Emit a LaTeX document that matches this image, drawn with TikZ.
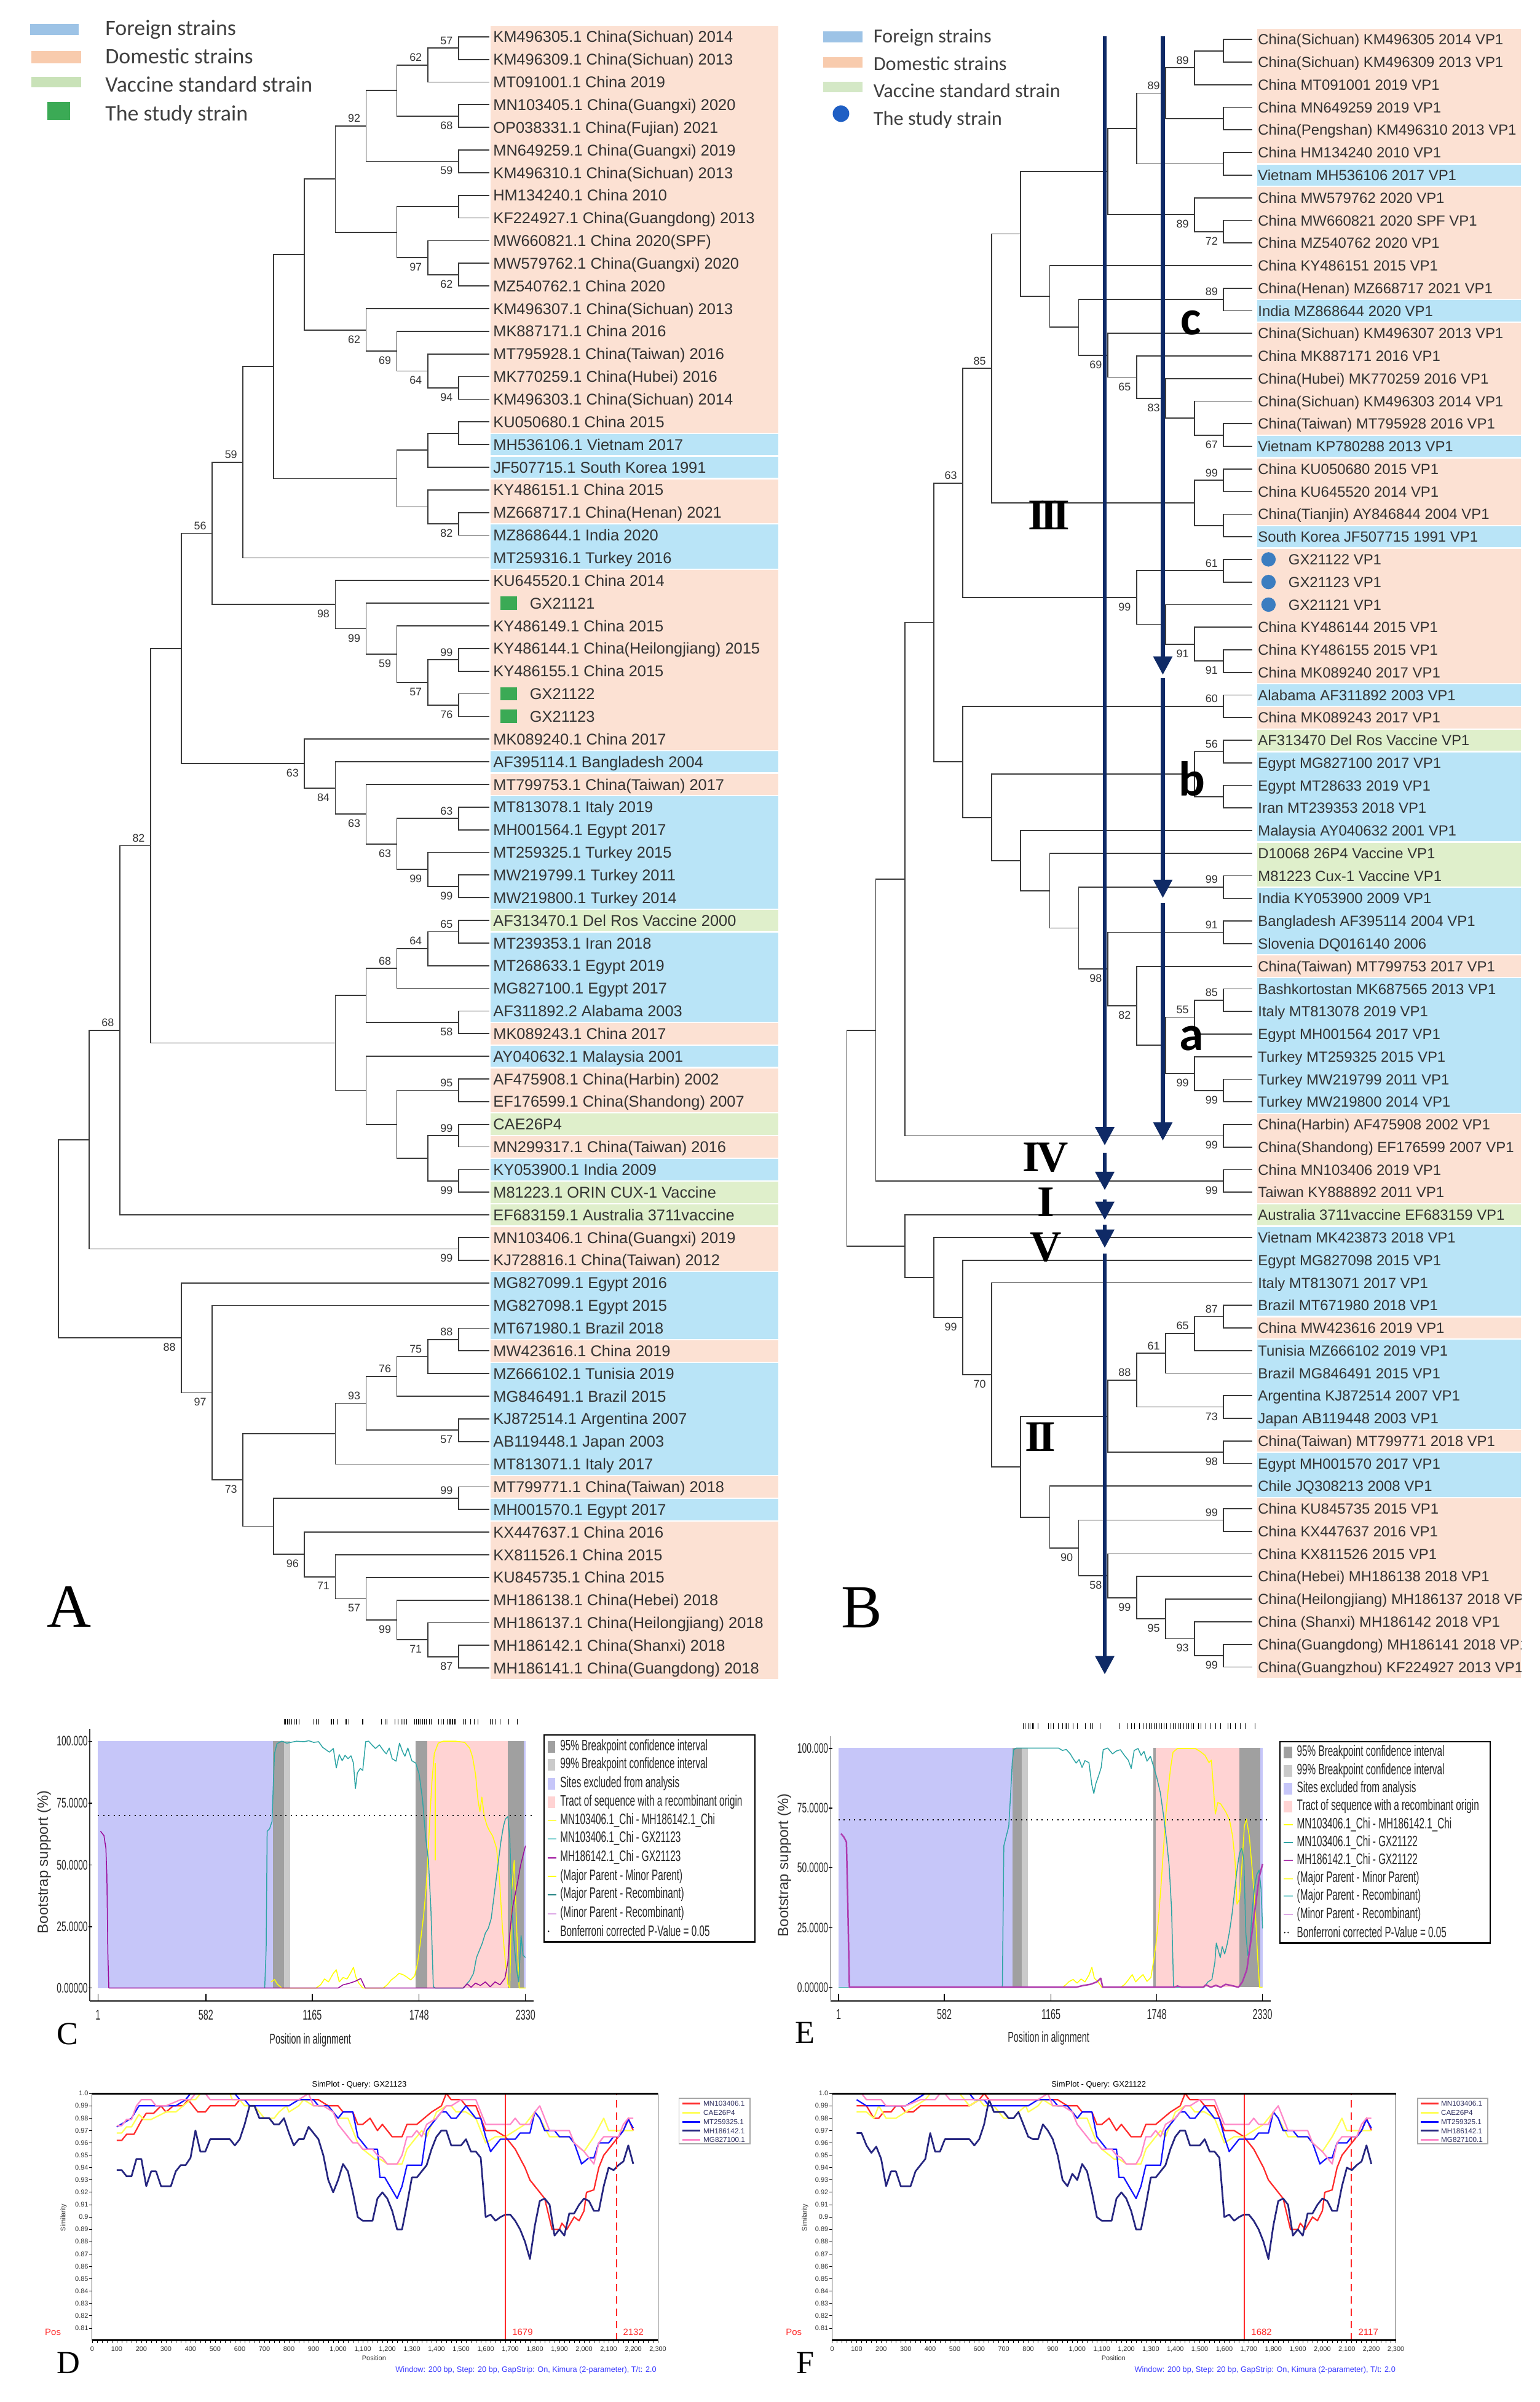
\documentclass[tikz,border=0pt]{standalone}
\usepackage{fontspec}
\setmainfont{Liberation Sans}
\newfontfamily\lsans{Liberation Sans}
\newfontfamily\nsans[FakeStretch=0.62]{Liberation Sans}
\newfontfamily\carl{Carlito}
\newfontfamily\lserif{Liberation Serif}
\usetikzlibrary{arrows.meta}
\definecolor{cD}{HTML}{FCE1D3}
\definecolor{cF}{HTML}{B9E4F7}
\definecolor{cV}{HTML}{DFEFCB}
\definecolor{lgB}{HTML}{9DC3E6}
\definecolor{lgD}{HTML}{F8CBAD}
\definecolor{lgV}{HTML}{C9E2B8}
\definecolor{studyG}{HTML}{3BAA55}
\definecolor{studyB}{HTML}{3B7DC0}
\definecolor{legdot}{HTML}{1F5FC4}
\definecolor{navy}{HTML}{0F2A66}
\definecolor{txt}{HTML}{333333}
\definecolor{legtxt}{HTML}{404040}
\definecolor{brc}{HTML}{3A3A3A}
\definecolor{rdpP}{HTML}{C6C6F9}
\definecolor{rdpK}{HTML}{FFD3D3}
\definecolor{rdpG1}{HTML}{A0A0A0}
\definecolor{rdpG2}{HTML}{CACACA}
\definecolor{cyel}{HTML}{FFFF00}
\definecolor{cteal}{HTML}{2FA5A5}
\definecolor{clteal}{HTML}{86D3D3}
\definecolor{cpur}{HTML}{9A0A9A}
\definecolor{clpur}{HTML}{DDA8E6}
\definecolor{sR}{HTML}{FF2A2A}
\definecolor{sY}{HTML}{FFFF55}
\definecolor{sB}{HTML}{1414FF}
\definecolor{sN}{HTML}{262680}
\definecolor{sP}{HTML}{FF88C8}
\definecolor{winblue}{HTML}{3C3CFF}
\definecolor{slegtxt}{HTML}{303060}
\tikzset{
 branch/.style={draw=brc, line width=0.7pt},
 bsa/.style={font=\lsans\fontsize{7.2}{8}\selectfont, text=txt, anchor=south east, xshift=-3.8pt, yshift=2.4pt},
 bsb/.style={font=\lsans\fontsize{7.2}{8}\selectfont, text=txt, anchor=north east, xshift=-3.8pt, yshift=-3.6pt},
 labA/.style={font=\lsans\fontsize{10.2}{12}\selectfont, text=txt, anchor=base west, yshift=-3.65pt},
 labB/.style={font=\lsans\fontsize{9.6}{11}\selectfont, text=txt, anchor=base west, yshift=-3.45pt},
 legA/.style={font=\carl\fontsize{14.4}{16}\selectfont, text=legtxt, anchor=base west, yshift=-4.6pt},
 legB/.style={font=\carl\fontsize{13}{15}\selectfont, text=legtxt, anchor=base west, yshift=-4.2pt},
 roman/.style={font=\lserif\bfseries\fontsize{28.5}{30}\selectfont, text=black},
 cladel/.style={font=\carl\bfseries\fontsize{32}{34}\selectfont, text=black},
 panel/.style={font=\lserif\fontsize{40}{42}\selectfont, text=black},
 panelS/.style={font=\lserif\fontsize{21}{22}\selectfont, text=black},
 bigarrow/.style={draw=navy, line width=2.6pt, -{Triangle[width=12pt,length=12pt]}},
 rdpt/.style={font=\nsans\fontsize{9.9}{10}\selectfont, text=black!85, anchor=west},
 rdptick/.style={font=\nsans\fontsize{9}{10}\selectfont, text=black!85},
 rdpax/.style={font=\nsans\fontsize{9.3}{10}\selectfont, text=black!85},
 bsup/.style={font=\lsans\fontsize{9.6}{10}\selectfont, text=black!80, rotate=90},
 curv/.style={line width=0.6pt, line join=round},
 scurv/.style={line width=0.9pt, line join=round},
 stitle/.style={font=\lsans\fontsize{5.2}{6}\selectfont},
 stick/.style={font=\lsans\fontsize{4.4}{5}\selectfont, text=black!80},
 sleg/.style={font=\lsans\fontsize{4.7}{5}\selectfont, text=slegtxt, anchor=west},
 spos/.style={font=\lsans\fontsize{6}{7}\selectfont, text=sR},
 swin/.style={font=\lsans\fontsize{5.1}{6}\selectfont, text=winblue},
 redline/.style={draw=sR, line width=0.75pt},
}
\newcommand\tn[6]{\coordinate (#1) at (#2,#3);
 \foreach \kid in {#4}{\draw[branch] (#1) |- (\kid);}
 \if#6a\node[bsa] (#1l) at (#1) {#5};\fi
 \if#6b\node[bsb] (#1l) at (#1) {#5};\fi}
% SimPlot curves: shared tails, first part as argument
\newcommand\simR[1]{\draw[scurv,sR] plot coordinates {#1 (640,.995) (700,.995) (760,.995) (880,.995) (920,.995) (960,.99) (1000,.99) (1020,.985) (1060,.985) (1080,.975) (1100,.975) (1130,.98) (1160,.97) (1180,.975) (1200,.97) (1220,.965) (1260,.965) (1280,.975) (1320,.975) (1380,.985) (1420,.99) (1440,1.0) (1460,.995) (1500,.995) (1520,.99) (1560,.99) (1580,.98) (1600,.97) (1640,.97) (1680,.965) (1720,.955) (1760,.94) (1780,.93) (1800,.925) (1840,.915) (1870,.89) (1900,.89) (1910,.895) (1930,.89) (1960,.9) (1980,.897) (2000,.905) (2010,.92) (2040,.922) (2060,.94) (2080,.95) (2100,.955) (2120,.96) (2140,.965) (2160,.97) (2180,.98) (2200,.97)};}
\newcommand\simY[1]{\draw[scurv,sY] plot coordinates {#1 (600,.995) (620,.99) (660,.99) (680,.985) (700,.98) (740,.98) (760,.985) (790,.99) (800,.985) (840,.99) (860,.995) (900,.99) (960,.99) (980,.985) (1000,.98) (1040,.98) (1060,.97) (1080,.96) (1100,.955) (1150,.947) (1170,.947) (1200,.943) (1260,.943) (1280,.955) (1300,.96) (1340,.97) (1360,.965) (1400,.985) (1440,.99) (1460,.99) (1480,.985) (1520,.985) (1560,.98) (1600,.96) (1640,.965) (1680,.965) (1720,.97) (1760,.975) (1800,.985) (1820,.98) (1860,.965) (1900,.965) (1940,.965) (1960,.96) (2000,.953) (2040,.965) (2080,.98) (2100,.97) (2160,.97) (2200,.97)};}
\newcommand\simB[1]{\draw[scurv,sB] plot coordinates {#1 (600,.995) (620,.995) (640,.99) (700,.99) (780,.99) (800,.99) (840,.995) (900,.995) (920,.99) (960,.99) (980,.985) (1000,.98) (1020,.985) (1060,.985) (1080,.965) (1100,.96) (1120,.955) (1160,.955) (1170,.932) (1190,.932) (1240,.915) (1260,.925) (1280,.942) (1300,.942) (1340,.942) (1360,.97) (1380,.975) (1420,.985) (1440,.985) (1460,.98) (1480,.98) (1500,.985) (1520,.99) (1540,.985) (1560,.98) (1580,.98) (1600,.965) (1620,.953) (1660,.963) (1680,.963) (1720,.963) (1740,.968) (1780,.968) (1800,.985) (1820,.98) (1840,.97) (1880,.97) (1900,.965) (1940,.965) (1960,.96) (1990,.943) (2020,.948) (2040,.948) (2060,.96) (2100,.96) (2120,.965) (2140,.965) (2160,.97) (2180,.979) (2200,.972)};}
\newcommand\simN[1]{\draw[scurv,sN,line width=1.1pt] plot coordinates {#1 (1000,.93) (1020,.943) (1040,.937) (1060,.92) (1080,.9) (1100,.897) (1140,.897) (1160,.915) (1180,.92) (1200,.915) (1220,.905) (1240,.89) (1260,.89) (1280,.91) (1300,.932) (1320,.932) (1340,.937) (1360,.942) (1380,.955) (1400,.965) (1420,.97) (1440,.97) (1460,.958) (1480,.958) (1500,.958) (1520,.963) (1540,.953) (1560,.953) (1580,.948) (1600,.9) (1620,.902) (1640,.897) (1660,.9) (1680,.902) (1700,.902) (1720,.897) (1740,.89) (1760,.88) (1780,.866) (1800,.893) (1820,.913) (1840,.915) (1860,.91) (1880,.885) (1900,.89) (1920,.885) (1940,.903) (1960,.903) (1980,.91) (2000,.915) (2020,.913) (2040,.905) (2060,.905) (2080,.925) (2100,.94) (2120,.938) (2140,.942) (2160,.945) (2180,.958) (2200,.943)};}
\newcommand\simP[1]{\draw[scurv,sP] plot coordinates {#1 (460,1.0) (480,.995) (560,.995) (620,.995) (700,.995) (820,.995) (840,.995) (880,1.0) (900,.99) (920,.99) (940,.99) (980,.985) (1000,.975) (1020,.97) (1040,.965) (1060,.96) (1080,.96) (1100,.955) (1140,.955) (1160,.95) (1180,.948) (1200,.943) (1240,.943) (1260,.95) (1280,.965) (1300,.965) (1320,.97) (1340,.965) (1360,.975) (1400,.98) (1440,.99) (1460,.99) (1500,.995) (1560,.995) (1600,.975) (1640,.975) (1680,.975) (1700,.975) (1720,.98) (1740,.975) (1780,.975) (1800,.985) (1820,.99) (1840,.98) (1860,.97) (1880,.97) (1900,.97) (1940,.97) (1960,.96) (2000,.953) (2040,.943) (2060,.96) (2080,.965) (2100,.965) (2140,.965) (2160,.975) (2180,.98) (2200,.98)};}
\begin{document}
\begin{tikzpicture}[x=1pt,y=-1pt, every node/.style={inner sep=0pt, outer sep=0pt}]
\useasboundingbox (0,0) rectangle (1005,1568);
\fill[white] (0,0) rectangle (1005,1568);

%================ PANEL A =================
\fill[lgB] (19.6,15.6) rectangle (51.4,23);
\fill[lgD] (20.3,33.4) rectangle (53,41.5);
\fill[lgV] (20.3,50.2) rectangle (53,57.1);
\fill[studyG] (31,66.8) rectangle (45.7,78.3);
\node[legA] (lgA1) at (68.8,18.4) {Foreign strains};
\node[legA] (lgA2) at (68.8,36.8) {Domestic strains};
\node[legA] (lgA3) at (68.8,55.3) {Vaccine standard strain};
\node[legA] (lgA4) at (68.8,74.2) {The study strain};

\begin{scope}[xshift=38pt, yshift=-9.21pt, x=20.1pt, y=-14.79pt]
\foreach \s/\e/\cl in {1/18/cD,19/19/cF,20/20/cF,21/22/cD,23/24/cF,25/32/cD,33/33/cF,34/34/cD,35/39/cF,40/40/cV,41/44/cF,45/45/cD,46/46/cF,47/48/cD,49/49/cV,50/50/cD,51/51/cF,52/52/cV,53/53/cV,54/55/cD,56/58/cF,59/59/cD,60/64/cF,65/65/cD,66/66/cF,67/73/cD}
  {\fill[\cl] (14.05,{\s-0.47}) rectangle (23.38,{\e+0.47});}
\foreach \i in {1,...,73}{\coordinate (Ar\i) at (14,\i);}
\tn{Aa1}{13}{1.5}{Ar1,Ar2}{57}{a}
\tn{Aa2}{12}{2.25}{Aa1,Ar3}{62}{a}
\tn{Aa3}{13}{4.5}{Ar4,Ar5}{68}{b}
\tn{Aa4}{11}{3.375}{Aa2,Aa3}{}{n}
\tn{Aa5}{13}{6.5}{Ar6,Ar7}{59}{b}
\tn{Aa6}{10}{4.9375}{Aa4,Aa5}{92}{a}
\tn{Aa7}{13}{8.5}{Ar8,Ar9}{}{n}
\tn{Aa8}{13}{11.5}{Ar11,Ar12}{62}{b}
\tn{Aa9}{12}{10.75}{Ar10,Aa8}{97}{b}
\tn{Aa10}{11}{9.625}{Aa7,Aa9}{}{n}
\tn{Aa11}{9}{7.28}{Aa6,Aa10}{}{n}
\tn{Aa12}{13}{16.5}{Ar16,Ar17}{94}{b}
\tn{Aa13}{12}{15.75}{Ar15,Aa12}{64}{b}
\tn{Aa14}{11}{14.875}{Ar14,Aa13}{69}{b}
\tn{Aa15}{10}{13.94}{Ar13,Aa14}{62}{b}
\tn{Aa16}{8}{10.61}{Aa11,Aa15}{}{n}
\tn{Ab1}{13}{18.5}{Ar18,Ar19}{}{n}
\tn{Ab2}{12}{19.25}{Ab1,Ar20}{}{n}
\tn{Ab3}{13}{22.5}{Ar22,Ar23}{82}{b}
\tn{Ab4}{12}{21.75}{Ar21,Ab3}{}{n}
\tn{Ab5}{11}{20.5}{Ab2,Ab4}{}{n}
\tn{Ab6}{7}{15.55}{Aa16,Ab5}{}{n}
\tn{Ab7}{6}{19.78}{Ab6,Ar24}{59}{a}
\tn{Ac1}{13}{28.5}{Ar28,Ar29}{99}{a}
\tn{Ac2}{13}{30.5}{Ar30,Ar31}{76}{b}
\tn{Ac3}{12}{29.5}{Ac1,Ac2}{57}{b}
\tn{Ac4}{11}{28.25}{Ar27,Ac3}{59}{b}
\tn{Ac5}{10}{27.125}{Ar26,Ac4}{99}{b}
\tn{Ac6}{9}{26.06}{Ar25,Ac5}{98}{b}
\tn{Ac7}{5}{22.92}{Ab7,Ac6}{56}{a}
\tn{Ad1}{13}{35.5}{Ar35,Ar36}{63}{a}
\tn{Ad2}{13}{38.5}{Ar38,Ar39}{99}{b}
\tn{Ad3}{12}{37.75}{Ar37,Ad2}{99}{b}
\tn{Ad4}{11}{36.625}{Ad1,Ad3}{63}{b}
\tn{Ad5}{10}{35.31}{Ar34,Ad4}{63}{b}
\tn{Ad6}{9}{34.16}{Ar33,Ad5}{84}{b}
\tn{Ad7}{8}{33.08}{Ar32,Ad6}{63}{b}
\tn{Ac8}{4}{28.0}{Ac7,Ad7}{}{n}
\tn{Ae1}{13}{40.5}{Ar40,Ar41}{65}{a}
\tn{Ae2}{12}{41.25}{Ae1,Ar42}{64}{a}
\tn{Ae3}{11}{42.125}{Ae2,Ar43}{68}{a}
\tn{Ae4}{13}{44.5}{Ar44,Ar45}{58}{b}
\tn{Ae5}{10}{43.31}{Ae3,Ae4}{}{n}
\tn{Af1}{13}{47.5}{Ar47,Ar48}{95}{a}
\tn{Af2}{13}{49.5}{Ar49,Ar50}{99}{a}
\tn{Af3}{13}{51.5}{Ar51,Ar52}{99}{b}
\tn{Af4}{12}{50.5}{Af2,Af3}{}{n}
\tn{Af5}{11}{49}{Af1,Af4}{}{n}
\tn{Af6}{10}{47.5}{Ar46,Af5}{}{n}
\tn{Ae7}{9}{45.41}{Ae5,Af6}{}{n}
\tn{Ag1}{3}{36.7}{Ac8,Ae7}{82}{a}
\tn{Ag2}{2}{44.85}{Ag1,Ar53}{68}{a}
\tn{Ag3}{13}{54.5}{Ar54,Ar55}{99}{b}
\tn{Ag4}{1}{49.68}{Ag2,Ag3}{}{n}
\tn{Ah1}{13}{58.5}{Ar58,Ar59}{88}{a}
\tn{Ah2}{12}{59.25}{Ah1,Ar60}{75}{a}
\tn{Ah3}{11}{60.125}{Ah2,Ar61}{76}{a}
\tn{Ah4}{13}{62.5}{Ar62,Ar63}{57}{b}
\tn{Ah5}{10}{61.31}{Ah3,Ah4}{93}{a}
\tn{Ah6}{9}{62.66}{Ah5,Ar64}{}{n}
\tn{Ak1}{13}{65.5}{Ar65,Ar66}{99}{a}
\tn{Ak2}{13}{72.5}{Ar72,Ar73}{87}{b}
\tn{Ak3}{12}{71.75}{Ar71,Ak2}{71}{b}
\tn{Ak4}{11}{70.875}{Ar70,Ak3}{99}{b}
\tn{Ak5}{10}{69.94}{Ar69,Ak4}{57}{b}
\tn{Ak6}{9}{68.97}{Ar68,Ak5}{71}{b}
\tn{Ak7}{8}{67.98}{Ar67,Ak6}{96}{b}
\tn{Ak8}{7}{66.74}{Ak1,Ak7}{}{n}
\tn{Ak9}{6}{64.7}{Ah6,Ak8}{73}{b}
\tn{Ak10}{5}{60.85}{Ar57,Ak9}{97}{b}
\tn{Ak11}{4}{58.43}{Ar56,Ak10}{88}{b}
\tn{Aroot}{0}{54.05}{Ag4,Ak11}{}{n}
\foreach \i/\t in {1/KM496305.1 China(Sichuan) 2014,2/KM496309.1 China(Sichuan) 2013,3/MT091001.1 China 2019,4/MN103405.1 China(Guangxi) 2020,5/OP038331.1 China(Fujian) 2021,6/MN649259.1 China(Guangxi) 2019,7/KM496310.1 China(Sichuan) 2013,8/HM134240.1 China 2010,9/KF224927.1 China(Guangdong) 2013,10/MW660821.1 China 2020(SPF),11/MW579762.1 China(Guangxi) 2020,12/MZ540762.1 China 2020,13/KM496307.1 China(Sichuan) 2013,14/MK887171.1 China 2016,15/MT795928.1 China(Taiwan) 2016,16/MK770259.1 China(Hubei) 2016,17/KM496303.1 China(Sichuan) 2014,18/KU050680.1 China 2015,19/MH536106.1 Vietnam 2017,20/JF507715.1 South Korea 1991,21/KY486151.1 China 2015,22/MZ668717.1 China(Henan) 2021,23/MZ868644.1 India 2020,24/MT259316.1 Turkey 2016,25/KU645520.1 China 2014,27/KY486149.1 China 2015,28/KY486144.1 China(Heilongjiang) 2015,29/KY486155.1 China 2015,32/MK089240.1 China 2017,33/AF395114.1 Bangladesh 2004,34/MT799753.1 China(Taiwan) 2017,35/MT813078.1 Italy 2019,36/MH001564.1 Egypt 2017,37/MT259325.1 Turkey 2015,38/MW219799.1 Turkey 2011,39/MW219800.1 Turkey 2014,40/AF313470.1 Del Ros Vaccine 2000,41/MT239353.1 Iran 2018,42/MT268633.1 Egypt 2019,43/MG827100.1 Egypt 2017,44/AF311892.2 Alabama 2003,45/MK089243.1 China 2017,46/AY040632.1 Malaysia 2001,47/AF475908.1 China(Harbin) 2002,48/EF176599.1 China(Shandong) 2007,49/CAE26P4,50/MN299317.1 China(Taiwan) 2016,51/KY053900.1 India 2009,52/M81223.1 ORIN CUX-1 Vaccine,53/EF683159.1 Australia 3711vaccine,54/MN103406.1 China(Guangxi) 2019,55/KJ728816.1 China(Taiwan) 2012,56/MG827099.1 Egypt 2016,57/MG827098.1 Egypt 2015,58/MT671980.1 Brazil 2018,59/MW423616.1 China 2019,60/MZ666102.1 Tunisia 2019,61/MG846491.1 Brazil 2015,62/KJ872514.1 Argentina 2007,63/AB119448.1 Japan 2003,64/MT813071.1 Italy 2017,65/MT799771.1 China(Taiwan) 2018,66/MH001570.1 Egypt 2017,67/KX447637.1 China 2016,68/KX811526.1 China 2015,69/KU845735.1 China 2015,70/MH186138.1 China(Hebei) 2018,71/MH186137.1 China(Heilongjiang) 2018,72/MH186142.1 China(Shanxi) 2018,73/MH186141.1 China(Guangdong) 2018}
  {\node[labA] (tA\i) at (14.13,\i) {\t};}
\foreach \i/\t in {26/GX21121,30/GX21122,31/GX21123}{
  \node[fill=studyG, minimum width=11pt, minimum height=8.8pt] (sqA\i) at (14.63,\i) {};
  \node[labA] (tA\i) at (15.32,\i) {\t};}
\end{scope}
\node[panel] (pA) at (45,1049) {A};

%================ PANEL B =================
\fill[lgB] (537.3,20.3) rectangle (563.2,27.6);
\fill[lgD] (537.3,37.5) rectangle (563.2,44.2);
\fill[lgV!80!white] (537.3,53.4) rectangle (563.2,60.3);
\fill[legdot] (549,74.2) circle (5.4pt);
\node[legB] (lgB1) at (570.2,23.7) {Foreign strains};
\node[legB] (lgB2) at (570.2,41.7) {Domestic strains};
\node[legB] (lgB3) at (570.2,59.4) {Vaccine standard strain};
\node[legB] (lgB4) at (570.2,77.4) {The study strain};

\begin{scope}[xshift=552.8pt, yshift=-11.05pt, x=18.92pt, y=-14.755pt]
\foreach \s/\e/\cl in {1/6/cD,7/7/cF,8/12/cD,13/13/cF,14/18/cD,19/19/cF,20/22/cD,23/23/cF,24/29/cD,30/30/cF,31/31/cD,32/32/cV,33/36/cF,37/38/cV,39/41/cF,42/42/cD,43/48/cF,49/52/cD,53/53/cV,54/57/cF,58/58/cD,59/62/cF,63/63/cD,64/65/cF,66/73/cD}
  {\fill[\cl] (14.16,{\s-0.47}) rectangle (23.26,{\e+0.47});}
\foreach \i in {1,...,73}{\coordinate (Br\i) at (14,\i);}
\tn{Ba1}{13}{1.5}{Br1,Br2}{}{n}
\tn{Ba2}{12}{2.25}{Ba1,Br3}{89}{a}
\tn{Ba3}{13}{4.5}{Br4,Br5}{}{n}
\tn{Ba4}{11}{3.375}{Ba2,Ba3}{89}{a}
\tn{Ba5}{13}{6.5}{Br6,Br7}{}{n}
\tn{Ba6}{10}{4.94}{Ba4,Ba5}{}{n}
\tn{Ba7}{13}{9.5}{Br9,Br10}{72}{b}
\tn{Ba8}{12}{8.75}{Br8,Ba7}{89}{b}
\tn{Ba9}{9}{6.84}{Ba6,Ba8}{}{n}
\tn{Bb1}{13}{12.5}{Br12,Br13}{89}{a}
\tn{Bc1}{13}{18.5}{Br18,Br19}{67}{b}
\tn{Bc2}{12}{17.75}{Br17,Bc1}{}{n}
\tn{Bc3}{11}{16.875}{Br16,Bc2}{83}{b}
\tn{Bc4}{10}{15.94}{Br15,Bc3}{65}{b}
\tn{Bc5}{9}{14.97}{Br14,Bc4}{69}{b}
\tn{Bc6}{8}{13.73}{Bb1,Bc5}{}{n}
\tn{Bc7}{7}{12.37}{Br11,Bc6}{}{n}
\tn{Bc8}{6}{9.6}{Ba9,Bc7}{}{n}
\tn{Bd1}{13}{20.5}{Br20,Br21}{99}{a}
\tn{Bd2}{13}{22.5}{Br22,Br23}{}{n}
\tn{Bd3}{12}{21.5}{Bd1,Bd2}{}{n}
\tn{Bd4}{5}{15.55}{Bc8,Bd3}{85}{a}
\tn{Be1}{13}{24.5}{Br24,Br25}{61}{a}
\tn{Be2}{13}{28.5}{Br28,Br29}{91}{b}
\tn{Be3}{12}{27.75}{Br27,Be2}{91}{b}
\tn{Be4}{11}{26.875}{Br26,Be3}{}{n}
\tn{Be5}{10}{25.69}{Be1,Be4}{99}{b}
\tn{Be6}{4}{20.62}{Bd4,Be5}{63}{a}
\tn{Bf1}{13}{30.5}{Br30,Br31}{60}{a}
\tn{Bf2}{13}{32.5}{Br32,Br33}{56}{a}
\tn{Bf3}{13}{34.5}{Br34,Br35}{}{n}
\tn{Bf4}{12}{33.5}{Bf2,Bf3}{}{n}
\tn{Bg1}{13}{38.5}{Br38,Br39}{99}{a}
\tn{Bg2}{13}{40.5}{Br40,Br41}{91}{a}
\tn{Bg3}{13}{43.5}{Br43,Br44}{85}{a}
\tn{Bg4}{12}{44.25}{Bg3,Br45}{55}{a}
\tn{Bg5}{13}{47.5}{Br47,Br48}{99}{b}
\tn{Bg6}{12}{46.75}{Br46,Bg5}{99}{b}
\tn{Bg7}{11}{45.5}{Bg4,Bg6}{}{n}
\tn{Bg8}{10}{43.75}{Br42,Bg7}{82}{b}
\tn{Bg9}{9}{42.125}{Bg2,Bg8}{98}{b}
\tn{Bg10}{8}{40.31}{Bg1,Bg9}{}{n}
\tn{Bg11}{7}{38.66}{Br37,Bg10}{}{n}
\tn{Bg12}{6}{37.33}{Br36,Bg11}{}{n}
\tn{Bg13}{5}{35.42}{Bf4,Bg12}{}{n}
\tn{Bg14}{4}{32.96}{Bf1,Bg13}{}{n}
\tn{Bh1}{3}{26.79}{Be6,Bg14}{}{n}
\tn{Bh2}{13}{49.5}{Br49,Br50}{99}{b}
\tn{Bh3}{2}{38.15}{Bh1,Bh2}{}{n}
\tn{Bh4}{13}{51.5}{Br51,Br52}{99}{b}
\tn{Bh5}{1}{44.83}{Bh3,Bh4}{}{n}
\tn{Bi1}{13}{57.5}{Br57,Br58}{87}{a}
\tn{Bi2}{12}{58.25}{Bi1,Br59}{65}{a}
\tn{Bi3}{11}{59.125}{Bi2,Br60}{61}{a}
\tn{Bi4}{13}{61.5}{Br61,Br62}{73}{b}
\tn{Bi5}{10}{60.31}{Bi3,Bi4}{88}{a}
\tn{Bi6}{13}{63.5}{Br63,Br64}{98}{b}
\tn{Bi7}{9}{61.91}{Bi5,Bi6}{}{n}
\tn{Bi8}{13}{66.5}{Br66,Br67}{99}{a}
\tn{Bi9}{13}{72.5}{Br72,Br73}{99}{b}
\tn{Bi10}{12}{71.75}{Br71,Bi9}{93}{b}
\tn{Bi11}{11}{70.875}{Br70,Bi10}{95}{b}
\tn{Bi12}{10}{69.94}{Br69,Bi11}{99}{b}
\tn{Bi13}{9}{68.97}{Br68,Bi12}{58}{b}
\tn{Bi14}{8}{67.73}{Bi8,Bi13}{90}{b}
\tn{Bi15}{7}{66.37}{Br65,Bi14}{}{n}
\tn{Bi16}{6}{64.14}{Bi7,Bi15}{}{n}
\tn{Bi17}{5}{60.07}{Br56,Bi16}{70}{b}
\tn{Bi18}{4}{57.53}{Br55,Bi17}{99}{b}
\tn{Bi19}{3}{55.77}{Br54,Bi18}{}{n}
\tn{Bi20}{2}{54.38}{Br53,Bi19}{}{n}
\tn{Broot}{0}{49.6}{Bh5,Bi20}{}{n}
\begin{scope}
\clip (14,0) rectangle (23.26,74);
\foreach \i/\t in {1/China(Sichuan) KM496305 2014 VP1,2/China(Sichuan) KM496309 2013 VP1,3/China MT091001 2019 VP1,4/China MN649259 2019 VP1,5/China(Pengshan) KM496310 2013 VP1,6/China HM134240 2010 VP1,7/Vietnam MH536106 2017 VP1,8/China MW579762 2020 VP1,9/China MW660821 2020 SPF VP1,10/China MZ540762 2020 VP1,11/China KY486151 2015 VP1,12/China(Henan) MZ668717 2021 VP1,13/India MZ868644 2020 VP1,14/China(Sichuan) KM496307 2013 VP1,15/China MK887171 2016 VP1,16/China(Hubei) MK770259 2016 VP1,17/China(Sichuan) KM496303 2014 VP1,18/China(Taiwan) MT795928 2016 VP1,19/Vietnam KP780288 2013 VP1,20/China KU050680 2015 VP1,21/China KU645520 2014 VP1,22/China(Tianjin) AY846844 2004 VP1,23/South Korea JF507715 1991 VP1,27/China KY486144 2015 VP1,28/China KY486155 2015 VP1,29/China MK089240 2017 VP1,30/Alabama AF311892 2003 VP1,31/China MK089243 2017 VP1,32/AF313470 Del Ros Vaccine VP1,33/Egypt MG827100 2017 VP1,34/Egypt MT28633 2019 VP1,35/Iran MT239353 2018 VP1,36/Malaysia AY040632 2001 VP1,37/D10068 26P4 Vaccine VP1,38/M81223 Cux-1 Vaccine VP1,39/India KY053900 2009 VP1,40/Bangladesh AF395114 2004 VP1,41/Slovenia DQ016140 2006,42/China(Taiwan) MT799753 2017 VP1,43/Bashkortostan MK687565 2013 VP1,44/Italy MT813078 2019 VP1,45/Egypt MH001564 2017 VP1,46/Turkey MT259325 2015 VP1,47/Turkey MW219799 2011 VP1,48/Turkey MW219800 2014 VP1,49/China(Harbin) AF475908 2002 VP1,50/China(Shandong) EF176599 2007 VP1,51/China MN103406 2019 VP1,52/Taiwan KY888892 2011 VP1,53/Australia 3711vaccine EF683159 VP1,54/Vietnam MK423873 2018 VP1,55/Egypt MG827098 2015 VP1,56/Italy MT813071 2017 VP1,57/Brazil MT671980 2018 VP1,58/China MW423616 2019 VP1,59/Tunisia MZ666102 2019 VP1,60/Brazil MG846491 2015 VP1,61/Argentina KJ872514 2007 VP1,62/Japan AB119448 2003 VP1,63/China(Taiwan) MT799771 2018 VP1,64/Egypt MH001570 2017 VP1,65/Chile JQ308213 2008 VP1,66/China KU845735 2015 VP1,67/China KX447637 2016 VP1,68/China KX811526 2015 VP1,69/China(Hebei) MH186138 2018 VP1,70/China(Heilongjiang) MH186137 2018 VP1,71/China (Shanxi) MH186142 2018 VP1,72/China(Guangdong) MH186141 2018 VP1,73/China(Guangzhou) KF224927 2013 VP1}
  {\node[labB] (tB\i) at (14.19,\i) {\t};}
\end{scope}
\foreach \i/\t in {24/GX21122 VP1,25/GX21123 VP1,26/GX21121 VP1}{
  \node[circle, fill=studyB, minimum size=9.4pt] (dB\i) at (14.55,\i) {};
  \node[labB] (tB\i) at (15.24,\i) {\t};}
\end{scope}

% thick arrows
\coordinate (L1a) at (721.2,23.7); \coordinate (L1b) at (721.2,747.7);
\coordinate (L2a) at (721.2,752.6); \coordinate (L2b) at (721.2,776.9);
\coordinate (L3a) at (721.2,782.9); \coordinate (L3b) at (721.2,796.4);
\coordinate (L4a) at (721.2,799.5); \coordinate (L4b) at (721.2,814.6);
\coordinate (L5a) at (721.2,818.3); \coordinate (L5b) at (721.2,1093);
\coordinate (R1a) at (759.1,23.7); \coordinate (R1b) at (759.1,440.5);
\coordinate (R2a) at (759.1,442.5); \coordinate (R2b) at (759.1,586.2);
\coordinate (R3a) at (759.1,589.5); \coordinate (R3b) at (759.1,744.6);
\foreach \a in {L1,L2,L3,L4,L5,R1,R2,R3}{\draw[bigarrow] (\a a) -- (\a b);}
\node[roman] (nIII) at (684.8,336.3) {I\kern-3.2pt I\kern-3.2pt I};
\node[roman] (nIV) at (682.6,755.5) {I\kern-2pt V};
\node[roman] (nI) at (682.6,784.6) {I};
\node[roman] (nV) at (682.6,814.2) {V};
\node[roman] (nII) at (679.1,938) {I\kern-2.3pt I};
\node[cladel] (nc) at (777.4,210.8) {c};
\node[cladel] (nb) at (778,508.4) {b};
\node[cladel] (na) at (778,677.7) {a};
\node[panel] (pB) at (562.6,1049.3) {B};

%================ PANEL C =================
\begin{scope}[yshift=-1103.3pt, x=0.32pt, y=-0.1587pt]
\fill[rdpP] (200,210) rectangle (557,1225);
\fill[rdpG1] (557,210) rectangle (580,1225);
\fill[rdpG2] (580,210) rectangle (592,1225);
\fill[rdpG1] (848,210) rectangle (872,1225);
\fill[rdpK] (872,210) rectangle (1036,1225);
\fill[rdpG1] (1036,210) rectangle (1068,1225);
\fill[rdpP] (1068,210) rectangle (1072,1225);
\foreach \t in {580,583,587,590,595,600,605,610,640,645,650,676,680,688,706,712,740,778,786,790,806,812,818,822,826,830,846,850,854,858,862,866,870,876,880,895,900,905,912,918,923,928,945,950,960,968,975,1000,1005,1010,1020,1038,1055}
  {\draw[line width=0.45pt] (\t,118) -- (\t,142);}
\draw[clpur, line width=0.6pt] (592,1225) -- (1036,1225);
\draw[curv,cyel] plot coordinates {(553,1200) (560,1190) (566,1210) (575,1225) (645,1225) (654,1212) (662,1188) (670,1200) (680,1165) (686,1150) (692,1200) (700,1182) (708,1188) (716,1160) (721,1140) (726,1180) (732,1205) (740,1225) (782,1225) (790,1212) (798,1192) (806,1180) (814,1165) (822,1170) (830,1180) (838,1192) (846,1175) (852,1120) (858,1030) (864,930) (869,820) (873,680) (877,520) (881,380) (886,260) (894,218) (904,210) (930,210) (948,215) (958,238) (964,275) (970,345) (975,450) (979,500) (983,440) (988,520) (994,560) (999,580) (1005,600) (1013,650) (1019,780) (1025,980) (1031,1120) (1036,1210) (1040,1225) (1044,820) (1049,700) (1054,980) (1059,1225) (1072,1225)};
\draw[curv,cyel] (888,300) -- (888,700);
\draw[curv,cteal] plot coordinates {(540,1225) (543,1060) (545,580) (550,570) (555,540) (557,420) (560,260) (565,220) (575,210) (585,218) (595,214) (605,210) (620,212) (630,208) (640,215) (650,212) (658,235) (665,245) (672,255) (680,240) (686,320) (692,265) (698,290) (704,268) (710,282) (716,270) (721,300) (725,405) (729,340) (735,322) (740,330) (746,212) (752,210) (760,228) (766,240) (774,225) (782,248) (788,262) (794,238) (800,282) (808,292) (815,218) (821,252) (826,272) (832,238) (840,290) (848,300) (855,345) (862,450) (868,600) (874,700) (879,900) (884,1220) (888,1225) (945,1225) (958,1195) (966,1165) (972,1100) (978,1070) (984,1040) (990,1000) (996,980) (1002,940) (1007,860) (1012,780) (1017,700) (1022,620) (1027,560) (1031,530) (1036,520) (1040,610) (1044,880) (1049,1050) (1054,1150) (1058,1200) (1063,1010) (1067,1090) (1072,1100)};
\draw[curv,cpur] plot coordinates {(205,580) (212,598) (216,650) (218,760) (220,1080) (222,1225) (690,1225) (700,1212) (712,1206) (724,1198) (736,1186) (745,1225) (945,1225) (953,1208) (961,1222) (970,1205) (980,1215) (990,1200) (1000,1220) (1010,1200) (1020,1212) (1030,1185) (1036,1120) (1040,1000) (1045,900) (1050,850) (1056,790) (1062,720) (1067,680) (1072,640)};
\draw[line width=0.6pt, dash pattern=on 0.8pt off 2.6pt] (200,515) -- (1092,515);
\draw[line width=0.5pt, black!80] (183,160) -- (183,1278);
\draw[line width=1pt, black!65] (183,1278) -- (1088,1278);
\foreach \x in {200,420,637,855,1072}{\draw[line width=0.5pt] (\x,1250) -- (\x,1278);}
\foreach \y/\l in {210/100.000,465/75.0000,720/50.0000,973/25.0000,1225/0.00000}
  {\draw[line width=0.5pt] (180,\y) -- (188,\y); \node[rdptick, anchor=east] (cy\y) at (179,\y) {\l};}
\foreach \x/\l in {200/1,420/582,637/1165,855/1748,1072/2330}{\node[rdpax] (cx\x) at (\x,1335) {\l};}
\node[bsup] (cYl) at (90,707) {Bootstrap support (\%)};
\node[rdpax] (cXl) at (633,1440) {Position in alignment};
\draw[line width=0.9pt, fill=white] (1110,185) rectangle (1540,1035);
\fill[rdpG1] (1117,210) rectangle (1133,257);
\fill[rdpG2] (1117,283) rectangle (1133,330);
\fill[rdpP] (1117,362) rectangle (1133,410);
\fill[rdpK] (1117,437) rectangle (1133,485);
\draw[cyel, line width=0.8pt] (1117,537) -- (1135,537);
\draw[clteal, line width=0.8pt] (1117,612) -- (1135,612);
\draw[cpur, line width=0.8pt] (1117,689) -- (1135,689);
\draw[cyel, line width=0.8pt] (1117,767) -- (1135,767);
\draw[cteal!80!black, line width=0.8pt] (1117,842) -- (1135,842);
\draw[clpur, line width=0.8pt] (1117,919) -- (1135,919);
\fill (1119,992) circle (0.5pt);
\foreach \y/\l in {233/95\% Breakpoint confidence interval,305/99\% Breakpoint confidence interval,385/Sites excluded from analysis,460/Tract of sequence with a recombinant origin,535/MN103406.1\_Chi - MH186142.1\_Chi,610/MN103406.1\_Chi - GX21123,687/MH186142.1\_Chi - GX21123,765/(Major Parent - Minor Parent),840/(Major Parent - Recombinant),917/(Minor Parent - Recombinant),990/Bonferroni corrected P-Value = 0.05}
  {\node[rdpt] (cl\y) at (1143,\y) {\l};}
\end{scope}
\node[panelS] (pC) at (44.2,1327.9) {C};

%================ PANEL E =================
\begin{scope}[xshift=501.5pt, yshift=-1103.3pt, x=0.3211pt, y=-0.1587pt]
\fill[rdpP] (143,237) rectangle (497,1222);
\fill[rdpG1] (497,237) rectangle (516,1222);
\fill[rdpG2] (516,237) rectangle (528,1222);
\fill[rdpG1] (783,237) rectangle (788,1222);
\fill[rdpK] (788,237) rectangle (958,1222);
\fill[rdpG1] (958,237) rectangle (1000,1222);
\fill[rdpP] (1000,237) rectangle (1005,1222);
\foreach \t in {518,522,528,532,537,540,548,570,575,580,590,598,603,606,610,620,628,645,655,660,675,715,730,738,745,755,762,768,775,780,785,790,795,800,805,810,818,823,828,835,838,845,850,855,860,865,875,880,890,900,910,920,935,940,950,960,970,990}
  {\draw[line width=0.45pt] (\t,135) -- (\t,160);}
\draw[curv,cyel] plot coordinates {(598,1222) (605,1212) (612,1198) (620,1190) (628,1205) (636,1188) (644,1200) (652,1172) (658,1140) (663,1185) (670,1198) (678,1222) (716,1222) (724,1212) (732,1192) (740,1170) (747,1200) (754,1185) (762,1170) (770,1198) (778,1182) (783,1120) (788,1050) (793,950) (798,820) (803,670) (808,520) (813,410) (818,320) (823,255) (832,240) (868,240) (878,252) (888,268) (896,298) (901,288) (905,400) (909,510) (914,462) (920,468) (930,500) (938,535) (944,600) (949,700) (953,880) (958,860) (963,720) (968,560) (972,530) (978,600) (984,740) (990,900) (995,1100) (999,1222) (1005,1222)};
\draw[curv,cteal] plot coordinates {(476,1222) (479,640) (484,600) (489,560) (493,420) (496,300) (499,245) (505,238) (590,238) (598,248) (606,244) (614,262) (620,282) (626,300) (632,285) (638,318) (644,290) (652,298) (658,390) (662,425) (666,385) (672,350) (677,318) (681,245) (690,238) (700,262) (708,250) (716,245) (724,268) (732,288) (738,322) (744,248) (752,240) (758,268) (764,252) (770,292) (777,272) (784,318) (790,360) (797,420) (804,520) (810,620) (815,720) (820,900) (824,1218) (828,1222) (886,1222) (894,1200) (902,1190) (908,1120) (911,1040) (915,1070) (919,1100) (923,1055) (928,1085) (933,1045) (938,990) (943,920) (948,830) (953,740) (958,670) (963,650) (967,700) (971,1000) (975,1090) (979,1060) (983,930) (988,820) (993,760) (998,740) (1002,820) (1005,980)};
\draw[curv,cteal] (143,1222) -- (165,1222);
\draw[curv,cpur!80!white,line width=1pt] plot coordinates {(148,590) (154,605) (159,625) (162,900) (165,1222) (626,1222) (640,1215) (655,1210) (668,1200) (676,1185) (680,1222) (826,1222) (832,1217) (840,1222) (884,1222) (890,1212) (900,1222) (910,1214) (920,1222) (930,1210) (940,1214) (956,1222) (964,1200) (973,1150) (982,1020) (991,880) (998,770) (1005,715)};
\draw[line width=0.6pt, dash pattern=on 0.8pt off 2.6pt] (143,533) -- (1018,533);
\draw[line width=0.5pt, black!80] (127,190) -- (127,1278);
\draw[line width=1pt, black!65] (127,1278) -- (1022,1278);
\foreach \x in {143,358,575,790,1005}{\draw[line width=0.5pt] (\x,1250) -- (\x,1278);}
\foreach \y/\l in {240/100.000,485/75.0000,730/50.0000,977/25.0000,1222/0.00000}
  {\draw[line width=0.5pt] (123,\y) -- (130,\y); \node[rdptick, anchor=east] (ey\y) at (122,\y) {\l};}
\foreach \x/\l in {143/1,358/582,575/1165,790/1748,1005/2330}{\node[rdpax] (ex\x) at (\x,1333) {\l};}
\node[bsup] (eYl) at (33,720) {Bootstrap support (\%)};
\node[rdpax] (eXl) at (570,1433) {Position in alignment};
\draw[line width=0.9pt, fill=white] (1040,212) rectangle (1468,1040);
\fill[rdpG1] (1048,232) rectangle (1065,280);
\fill[rdpG2] (1048,307) rectangle (1065,355);
\fill[rdpP] (1048,382) rectangle (1065,430);
\fill[rdpK] (1048,455) rectangle (1065,502);
\draw[cyel, line width=0.8pt] (1048,553) -- (1066,553);
\draw[cteal, line width=0.8pt] (1048,627) -- (1066,627);
\draw[cpur!80!white, line width=0.8pt] (1048,700) -- (1066,700);
\draw[cyel!70!white, line width=0.8pt] (1048,775) -- (1066,775);
\draw[clteal, line width=0.8pt] (1048,848) -- (1066,848);
\draw[clpur, line width=0.8pt] (1048,922) -- (1066,922);
\fill (1050,997) circle (0.45pt); \fill (1057,997) circle (0.45pt);
\foreach \y/\l in {255/95\% Breakpoint confidence interval,330/99\% Breakpoint confidence interval,405/Sites excluded from analysis,478/Tract of sequence with a recombinant origin,553/MN103406.1\_Chi - MH186142.1\_Chi,627/MN103406.1\_Chi - GX21122,700/MH186142.1\_Chi - GX21122,775/(Major Parent - Minor Parent),848/(Major Parent - Recombinant),922/(Minor Parent - Recombinant),995/Bonferroni corrected P-Value = 0.05}
  {\node[rdpt] (el\y) at (1075,\y) {\l};}
\end{scope}
\node[panelS] (pE) at (525.6,1327) {E};

%================ PANEL D =================
\begin{scope}[xshift=60.16pt, yshift=-2173.1pt, x=0.16056pt, y=806.5pt]
\simR{(100,.962) (120,.962) (140,.967) (170,.967) (200,.978) (220,.984) (250,.984) (280,.99) (300,.985) (330,.99) (370,.99) (390,.995) (410,.99) (430,.985) (460,.985) (480,.99) (580,.99) (600,.995)}
\simY{(100,.968) (120,.968) (140,.973) (160,.973) (190,.983) (210,.979) (240,.979) (270,.982) (300,.985) (340,.985) (370,.99) (400,.995) (420,.995) (440,1.0) (460,1.0) (540,1.0) (560,1.0) (570,.995)}
\simB{(100,.973) (160,.98) (190,.99) (230,.99) (300,.99) (340,.99) (380,.995) (400,1.0) (580,1.0)}
\simN{(100,.938) (120,.938) (140,.933) (160,.933) (180,.947) (200,.947) (220,.925) (240,.937) (260,.937) (280,.925) (320,.925) (340,.937) (360,.942) (380,.942) (400,.948) (420,.97) (440,.953) (460,.953) (480,.963) (560,.963) (580,.958) (600,.963) (620,.975) (640,.99) (660,.99) (680,.98) (720,.98) (740,.975) (760,.975) (780,.98) (800,.968) (820,.958) (840,.963) (860,.963) (880,.973) (900,.968) (920,.963) (940,.95) (960,.93) (980,.92)}
\simP{(100,.974) (120,.974) (140,.979) (160,.979) (180,.99) (200,.995) (240,.995) (260,.99) (300,.99) (360,.995) (400,.995) (420,1.0)}
\draw[redline] (1679,0.8) -- (1679,1.0);
\draw[redline, dash pattern=on 5pt off 3pt] (2132,0.8) -- (2132,1.0);
\end{scope}
\begin{scope}[yshift=-1352.1pt, x=0.32pt, y=-0.1374pt]
\node[stitle] (dT) at (733,65) {SimPlot - Query: GX21123};
\draw[line width=0.4pt, black!70] (188,105) rectangle (1342,1278);
\draw[line width=1.2pt] (188,105) -- (1342,105);
\draw[line width=1.2pt] (188,1278) -- (1342,1278);
\foreach \k/\l in {0/1.0,1/0.99,2/0.98,3/0.97,4/0.96,5/0.95,6/0.94,7/0.93,8/0.92,9/0.91,10/0.9,11/0.89,12/0.88,13/0.87,14/0.86,15/0.85,16/0.84,17/0.83,18/0.82,19/0.81}
  {\draw[line width=0.3pt] (182,{105+58.7*\k}) -- (188,{105+58.7*\k}); \node[stick, anchor=east] (dy\k) at (180,{105+58.7*\k}) {\l};}
\foreach \p in {0,20,...,2300}{\draw[line width=0.3pt] ({188+\p*0.50176},1278) -- ({188+\p*0.50176},1290);}
\foreach \p/\l in {0/0,100/100,200/200,300/300,400/400,500/500,600/600,700/700,800/800,900/900,1000/{1,000},1100/{1,100},1200/{1,200},1300/{1,300},1400/{1,400},1500/{1,500},1600/{1,600},1700/{1,700},1800/{1,800},1900/{1,900},2000/{2,000},2100/{2,100},2200/{2,200},2300/{2,300}}
  {\node[stick] (dx\p) at ({188+\p*0.50176},1320) {\l};}
\node[stick] (dXl) at (763,1362) {Position};
\node[stick, rotate=90] (dYl) at (130,695) {Similarity};
\node[spos] (dPos) at (108,1240) {Pos};
\node[spos] (d1679) at (1066,1240) {1679};
\node[spos] (d2132) at (1292,1240) {2132};
\node[swin] (dW) at (1073,1420) {Window: 200 bp, Step: 20 bp, GapStrip: On, Kimura (2-parameter), T/t: 2.0};
\draw[gray!70, line width=0.6pt, fill=white] (1385,128) rectangle (1530,345);
\foreach \y/\cl/\l in {153/sR/MN103406.1,197/sY/CAE26P4,240/sB/MT259325.1,283/sN/MH186142.1,325/sP/MG827100.1}
  {\draw[\cl, line width=1.2pt] (1392,\y) -- (1428,\y); \node[sleg] (dl\y) at (1435,\y) {\l};}
\end{scope}
\node[panelS] (pD) at (44.8,1542.4) {D};

%================ PANEL F =================
\begin{scope}[xshift=543.24pt, yshift=-2173.1pt, x=0.16pt, y=806.5pt]
\simR{(100,.99) (140,.99) (170,.98) (190,.98) (210,.985) (240,.985) (260,.99) (280,.99) (300,.985) (330,.985) (360,.99) (420,.99) (560,.99) (600,.995) (620,1.0)}
\simY{(100,.985) (140,.985) (170,.98) (190,.99) (220,.98) (260,.98) (300,.985) (340,.99) (380,.995) (400,1.0) (520,1.0) (540,.995) (560,.99)}
\simB{(100,.995) (140,.99) (180,.99) (240,.99) (300,.99) (340,.995) (380,1.0) (560,1.0) (580,.995)}
\simN{(100,.968) (120,.968) (140,.958) (160,.952) (180,.957) (200,.947) (220,.925) (240,.937) (260,.937) (280,.925) (320,.925) (340,.937) (360,.942) (380,.947) (400,.968) (420,.953) (440,.953) (460,.963) (560,.963) (580,.958) (600,.963) (620,.975) (640,.995) (660,.985) (700,.985) (720,.98) (740,.98) (760,.985) (780,.975) (800,.965) (820,.963) (840,.963) (860,.975) (880,.97) (900,.963) (920,.95) (940,.93) (960,.925) (980,.935)}
\simP{(100,1.0) (120,1.0) (140,.995) (200,.995) (220,.99) (280,.99) (300,.99) (360,.995) (420,.995) (440,1.0)}
\draw[redline] (1682,0.8) -- (1682,1.0);
\draw[redline, dash pattern=on 5pt off 3pt] (2117,0.8) -- (2117,1.0);
\end{scope}
\begin{scope}[xshift=501.5pt, yshift=-1352.1pt, x=0.3211pt, y=-0.1374pt]
\node[stitle] (fT) at (672,65) {SimPlot - Query: GX21122};
\draw[line width=0.4pt, black!70] (130,105) rectangle (1276,1278);
\draw[line width=1.2pt] (130,105) -- (1276,105);
\draw[line width=1.2pt] (130,1278) -- (1276,1278);
\foreach \k/\l in {0/1.0,1/0.99,2/0.98,3/0.97,4/0.96,5/0.95,6/0.94,7/0.93,8/0.92,9/0.91,10/0.9,11/0.89,12/0.88,13/0.87,14/0.86,15/0.85,16/0.84,17/0.83,18/0.82,19/0.81}
  {\draw[line width=0.3pt] (124,{105+58.7*\k}) -- (130,{105+58.7*\k}); \node[stick, anchor=east] (fy\k) at (122,{105+58.7*\k}) {\l};}
\foreach \p in {0,20,...,2300}{\draw[line width=0.3pt] ({130+\p*0.49826},1278) -- ({130+\p*0.49826},1290);}
\foreach \p/\l in {0/0,100/100,200/200,300/300,400/400,500/500,600/600,700/700,800/800,900/900,1000/{1,000},1100/{1,100},1200/{1,200},1300/{1,300},1400/{1,400},1500/{1,500},1600/{1,600},1700/{1,700},1800/{1,800},1900/{1,900},2000/{2,000},2100/{2,100},2200/{2,200},2300/{2,300}}
  {\node[stick] (fx\p) at ({130+\p*0.49826},1320) {\l};}
\node[stick] (fXl) at (702,1362) {Position};
\node[stick, rotate=90] (fYl) at (75,695) {Similarity};
\node[spos] (fPos) at (52,1240) {Pos};
\node[spos] (f1682) at (1003,1240) {1682};
\node[spos] (f2117) at (1220,1240) {2117};
\node[swin] (fW) at (1010,1420) {Window: 200 bp, Step: 20 bp, GapStrip: On, Kimura (2-parameter), T/t: 2.0};
\draw[gray!70, line width=0.6pt, fill=white] (1320,128) rectangle (1463,345);
\foreach \y/\cl/\l in {153/sR/MN103406.1,197/sY/CAE26P4,240/sB/MT259325.1,283/sN/MH186142.1,325/sP/MG827100.1}
  {\draw[\cl, line width=1.2pt] (1327,\y) -- (1363,\y); \node[sleg] (fl\y) at (1368,\y) {\l};}
\end{scope}
\node[panelS] (pF) at (525.6,1542.4) {F};
\end{tikzpicture}
\end{document}
